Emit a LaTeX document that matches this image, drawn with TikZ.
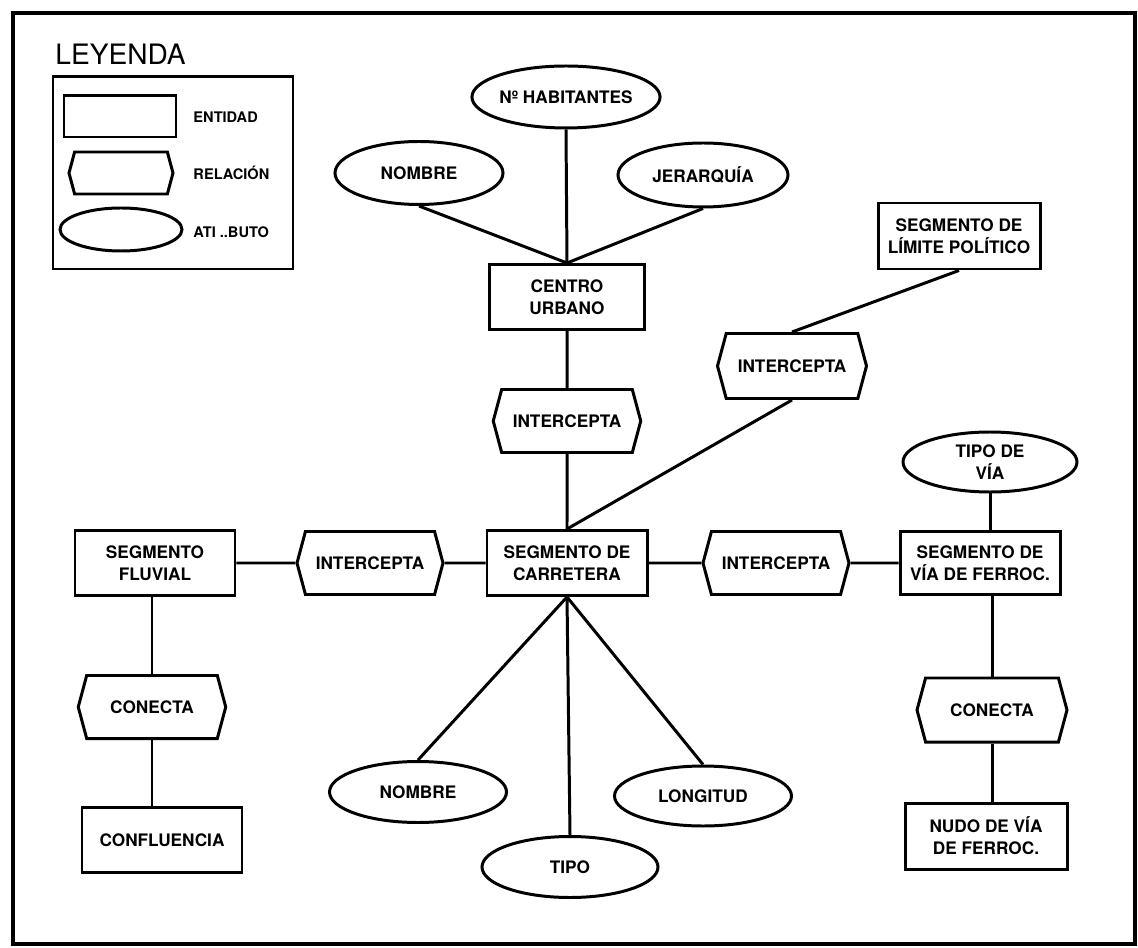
\documentclass[tikz,border=0pt]{standalone}
\usepackage{fontspec}
\setsansfont{TeX Gyre Heros}
\usetikzlibrary{positioning, shapes.geometric, shapes.symbols}

\begin{document}
\begin{tikzpicture}[
    line width=1.7pt,
    font=\sffamily\bfseries\fontsize{9.8}{12.5}\selectfont,
    entidad/.style={draw, rectangle, inner sep=0pt, align=center,
                    minimum width=3.2cm, minimum height=1.3cm},
    relacion/.style={draw, signal, signal to=east and west, signal pointer angle=150,
                     inner sep=0pt, minimum width=2.95cm, minimum height=1.26cm},
    atributo/.style={draw, ellipse, inner sep=0pt, align=center,
                     minimum width=3.5cm, minimum height=1.22cm},
    leyenda/.style={font=\sffamily\bfseries\fontsize{8.3}{10}\selectfont, anchor=west, inner sep=0pt},
]

    \useasboundingbox (-11.34,11.26) rectangle (11.42,-7.68);
    \draw[line width=2.2pt] (-11.08,11.0) rectangle (11.36,-7.62);

    % leyenda
    \node[anchor=west, inner sep=0pt, font=\sffamily\fontsize{16}{18}\selectfont] (titulo) at (-10.26,10.18) {LEYENDA};
    \node[draw, minimum width=4.8cm, minimum height=3.84cm] (caja) at (-7.88,7.8) {};
    \node[entidad, minimum width=2.24cm, minimum height=0.82cm] (lent) at (-8.94,8.93) {};
    \node[relacion, minimum width=2.08cm, minimum height=0.84cm] (lrel) at (-8.92,7.8) {};
    \node[atributo, minimum width=2.44cm, minimum height=0.86cm] (latr) at (-8.92,6.67) {};
    \node[leyenda] at (-7.5,8.92) {ENTIDAD};
    \node[leyenda] at (-7.5,7.8) {RELACIÓN};
    \node[leyenda] at (-7.5,6.62) {ATI ..BUTO};

    % centro urbano
    \node[atributo, minimum width=3.44cm, minimum height=1.24cm] (nhab) at (-0.02,9.32) {Nº HABITANTES};
    \node[atributo, minimum width=3.36cm, minimum height=1.26cm] (nomcu) at (-2.96,7.8) {NOMBRE};
    \node[atributo, minimum width=3.4cm, minimum height=1.28cm] (jerar) at (2.72,7.76) {JERARQUÍA};
    \node[entidad, minimum width=3.1cm] (centro) at (0,5.32) {CENTRO\\URBANO};
    \node[relacion] (intcu) at (0,2.84) {INTERCEPTA};

    % carretera
    \node[entidad] (carr) at (0,0) {SEGMENTO DE\\CARRETERA};
    \node[relacion, minimum width=2.92cm] (intiz) at (-3.94,0) {INTERCEPTA};
    \node[relacion, minimum width=2.92cm] (intde) at (4.18,0) {INTERCEPTA};
    \node[atributo, minimum width=3.54cm] (nomb) at (-2.98,-4.58) {NOMBRE};
    \node[atributo, minimum width=3.52cm] (tipo) at (0.06,-6.08) {TIPO};
    \node[atributo, minimum width=3.54cm, minimum height=1.2cm] (longi) at (2.72,-4.66) {LONGITUD};

    % limite politico
    \node[entidad, minimum width=3.24cm, minimum height=1.32cm] (limite) at (7.84,6.54) {SEGMENTO DE\\LÍMITE POLÍTICO};
    \node[relacion, minimum width=2.98cm, minimum height=1.3cm] (intup) at (4.5,3.94) {INTERCEPTA};

    % rio
    \node[entidad] (fluv) at (-8.24,0) {SEGMENTO\\FLUVIAL};
    \node[relacion] (conl) at (-8.3,-2.88) {CONECTA};
    \node[entidad] (confl) at (-8.1,-5.54) {CONFLUENCIA};

    % ferrocarril
    \node[atributo, minimum width=3.48cm, minimum height=1.2cm] (tipovia) at (8.46,2.02) {TIPO DE\\VÍA};
    \node[entidad, minimum height=1.26cm] (ferro) at (8.26,0) {SEGMENTO DE\\VÍA DE FERROC.};
    \node[relacion, minimum width=3.0cm, minimum height=1.28cm] (conr) at (8.5,-2.94) {CONECTA};
    \node[entidad, minimum width=3.24cm, minimum height=1.32cm] (nudo) at (8.38,-5.46) {NUDO DE VÍA\\DE FERROC.};

    \draw (nhab.south) -- (centro.north);
    \draw (nomcu.south) -- (centro.north);
    \draw (jerar.south) -- (centro.north);
    \draw (centro) -- (intcu) -- (carr);
    \draw (limite.south) -- (intup.north);
    \draw (intup.south) -- (carr.north);
    \draw (fluv) -- (intiz) -- (carr) -- (intde) -- (ferro);
    \draw (carr.south) -- (nomb.north);
    \draw (carr.south) -- (tipo.north);
    \draw (carr.south) -- (longi.north);
    \draw (conl.north) -- (conl.north |- fluv.south);
    \draw (conl.south) -- (conl.south |- confl.north);
    \draw (tipovia.south) -- (tipovia.south |- ferro.north);
    \draw (conr.north) -- (conr.north |- ferro.south);
    \draw (conr.south) -- (conr.south |- nudo.north);

\end{tikzpicture}
\end{document}
